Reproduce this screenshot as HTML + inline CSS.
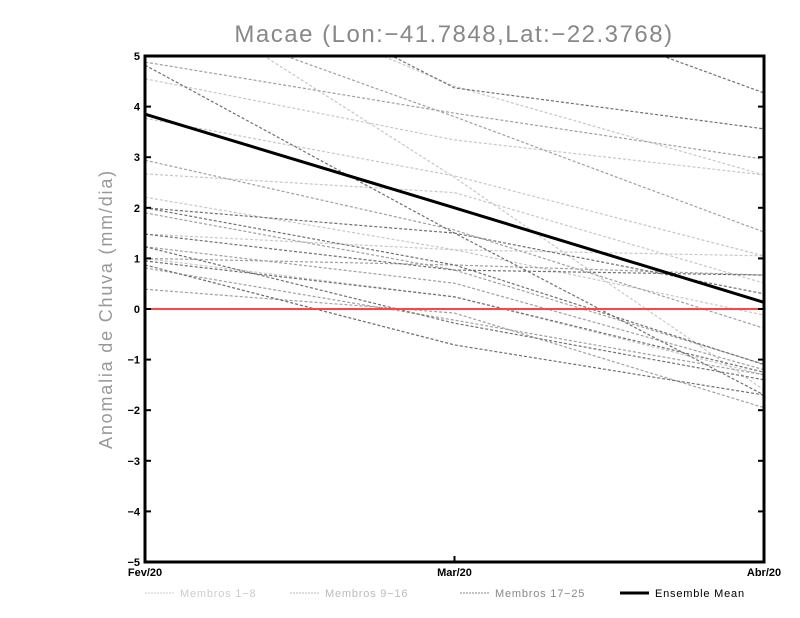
<!DOCTYPE html>
<html><head><meta charset="utf-8"><style>
body{margin:0;background:#fff;}
svg{display:block;font-family:"Liberation Sans",sans-serif;}
</style></head><body>
<svg id="chart" width="800" height="618">
<text x="454" y="42" text-anchor="middle" font-size="24" letter-spacing="1.5" fill="#888">Macae (Lon:−41.7848,Lat:−22.3768)</text>
<text transform="translate(112,309) rotate(-90)" text-anchor="middle" font-size="18" letter-spacing="1.8" fill="#999">Anomalia de Chuva (mm/dia)</text>
<g id="members"></g>
<g id="axes"></g>
</svg>
<script>
const categories=["Fev/20","Mar/20","Abr/20"];
const yTicks=[-5,-4,-3,-2,-1,0,1,2,3,4,5];
const group1=[[4.55,3.34,2.65],[3.77,2.63,1.05],[2.67,2.3,0.51],[2.21,1.17,-0.12],[1.48,1.17,1.05],[6.5,2.6,-1.6],[1.0,0.24,-1.3],[7,4.4,2.65]];
const group2=[[4.88,3.87,2.96],[2.94,1.56,-0.38],[1.9,0.77,-1.09],[1.23,0.51,-1.2],[0.39,-0.08,-1.95],[6.0,3.8,1.52],[1.0,0.87,0.67],[0.81,-0.22,-1.3]];
const group3=[[4.82,1.5,-1.7],[2.0,0.87,-1.1],[1.48,0.77,0.67],[0.87,-0.71,-1.7],[1.23,-0.28,-1.4],[7.5,4.37,3.56],[9,6.5,4.27],[2.0,1.5,0.3],[0.95,0.24,-1.25]];
const ensembleMean=[3.85,2.0,0.13];
const NS="http://www.w3.org/2000/svg";
const X0=145,X1=764,Y0=56,Y1=562;
const xs=i=>X0+(X1-X0)*i/(categories.length-1);
const ys=v=>Y1-(v+5)*(Y1-Y0)/10;
const svg=document.getElementById('chart'),gm=document.getElementById('members'),ga=document.getElementById('axes');
function mk(tag,at,p){const e=document.createElementNS(NS,tag);for(const k in at)e.setAttribute(k,at[k]);p.appendChild(e);return e;}
const clip=mk('clipPath',{id:'pc'},svg);mk('rect',{x:X0,y:Y0,width:X1-X0,height:Y1-Y0},clip);
gm.setAttribute('clip-path','url(#pc)');
const pts=a=>a.map((v,i)=>xs(i)+','+ys(v)).join(' ');
[[group1,'#c8c8c8'],[group2,'#a0a0a0'],[group3,'#707070']].forEach(([g,c])=>g.forEach(s=>{
 const l=mk('polyline',{points:pts(s),fill:'none',stroke:c,'stroke-width':1.2,'stroke-dasharray':'3,2'},gm);
 
 
}));
const z=mk('line',{x1:X0,x2:X1,y1:ys(0),y2:ys(0),stroke:'#f44',"stroke-width":2},gm);


const m=mk('polyline',{points:pts(ensembleMean),fill:'none',stroke:'#000','stroke-width':3},gm);


const fr=mk('rect',{x:X0,y:Y0,width:X1-X0,height:Y1-Y0,fill:'none',stroke:'#000','stroke-width':3},ga);


yTicks.forEach(v=>{
 mk('line',{x1:X0,x2:X0+6,y1:ys(v),y2:ys(v),stroke:'#000','stroke-width':2},ga);
 mk('line',{x1:X1-6,x2:X1,y1:ys(v),y2:ys(v),stroke:'#000','stroke-width':2},ga);
 const t=mk('text',{x:X0-5,y:ys(v)+4,'text-anchor':'end','font-size':11,'font-weight':'bold'},ga);
 t.textContent=v<0?'−'+(-v):v;
 
 
});
categories.forEach((c,i)=>{
 mk('line',{x1:xs(i),x2:xs(i),y1:Y1,y2:Y1-6,stroke:'#000','stroke-width':2},ga);
 const t=mk('text',{x:xs(i),y:Y1+14,'text-anchor':'middle','font-size':11,'font-weight':'bold'},ga);
 t.textContent=c;
 
 
});
const leg=[['Membros 1−8','#ccc',1,'2,1',140],['Membros 9−16','#bbb',1,'2,1',285],['Membros 17−25','#888',1,'2,1',455],['Ensemble Mean','#000',3,'',615]];
leg.forEach(([n,c,w,d,x])=>{
 mk('line',{x1:x+5,x2:x+34,y1:593,y2:593,stroke:c,'stroke-width':w,'stroke-dasharray':d},ga);
 const t=mk('text',{x:x+40,y:597,'font-size':11,'letter-spacing':'0.8',fill:n=='Ensemble Mean'?'#000':c},ga);
 t.textContent=n;
 
 
});
</script>
</body></html>
